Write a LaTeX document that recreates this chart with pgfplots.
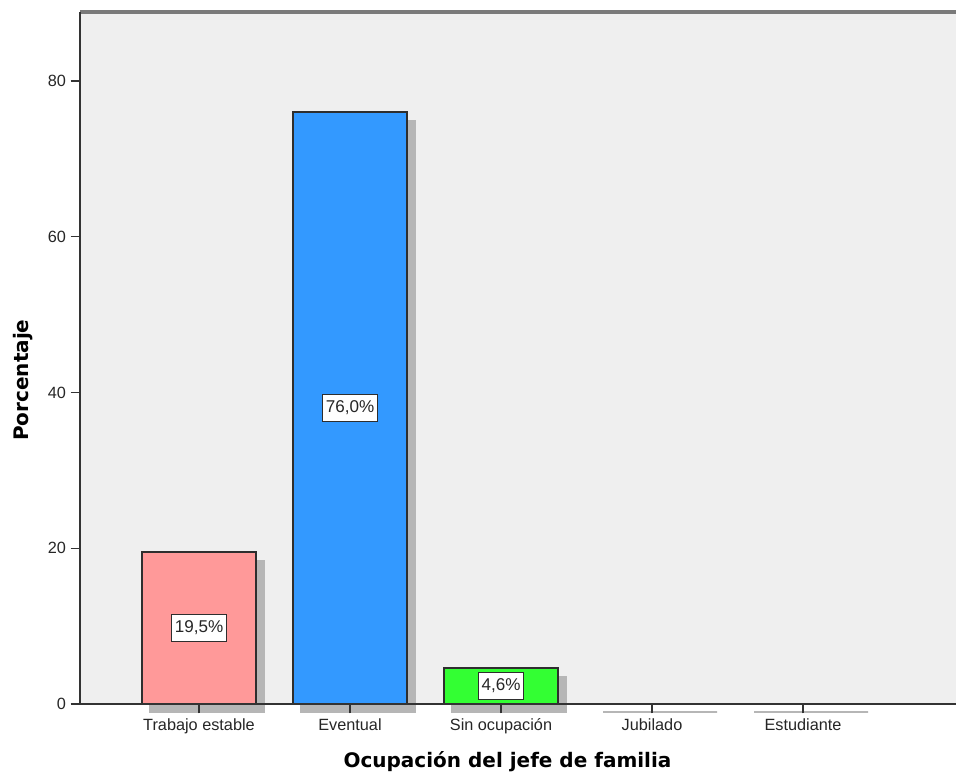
\documentclass[border=0pt]{standalone}
\usepackage{fontspec}
\setmainfont{Liberation Sans}
\newfontfamily\labfont{DejaVu Sans}
\usepackage{pgfplots}
\pgfplotsset{compat=1.18}
\definecolor{bg}{HTML}{EFEFEF}
\definecolor{topline}{HTML}{7A7A7A}
\definecolor{axisdark}{HTML}{333333}
\definecolor{edge}{HTML}{2E2E2E}
\definecolor{shadow}{HTML}{B6B6B6}
\definecolor{pinkbar}{HTML}{FF9999}
\definecolor{bluebar}{HTML}{3399FF}
\definecolor{greenbar}{HTML}{33FF33}
\begin{document}
\begin{tikzpicture}
\useasboundingbox (-60pt,-53.25pt) rectangle (657pt,528pt);
\begin{axis}[
  at={(0,0)}, anchor=south west, scale only axis,
  width=657pt, height=519pt,
  xmin=-0.788, xmax=5.013, ymin=0, ymax=88.86,
  clip=false, axis on top,
  axis background/.style={fill=bg},
  axis line style={draw=none},
  xtick={0,1,2,3,4},
  xticklabels={Trabajo estable,Eventual,Sin ocupación,Jubilado,Estudiante},
  ytick={0,20,40,60,80},
  xtick pos=bottom, ytick pos=left, tick align=outside,
  major tick length=7pt,
  tick style={draw=axisdark, line width=1pt},
  ticklabel style={font=\fontsize{12.2}{14}\selectfont, text=black!85},
  xticklabel style={text height=9pt, text depth=2.5pt},
  /pgf/number format/assume math mode=true,
  xlabel={Ocupación del jefe de familia},
  ylabel={Porcentaje},
  xlabel style={font=\labfont\bfseries\fontsize{15}{18}\selectfont, at={(axis description cs:0.488,-0.0838)}, anchor=center},
  ylabel style={font=\labfont\bfseries\fontsize{15}{18}\selectfont, at={(axis description cs:-0.0651,0.468)}, anchor=center},
]
% shadows
\addplot[ybar, bar width=0.755, bar shift=0pt, fill=shadow, draw=shadow, line width=0.9pt, xshift=6pt, yshift=-6pt]
  coordinates {(0,19.5) (1,76.0) (2,4.6) (3,0) (4,0)};
% bars
\addplot[ybar, bar width=0.755, bar shift=0pt, fill=pinkbar, draw=edge, line width=1.2pt]
  coordinates {(0,19.5)};
\addplot[ybar, bar width=0.755, bar shift=0pt, fill=bluebar, draw=edge, line width=1.2pt]
  coordinates {(1,76.0)};
\addplot[ybar, bar width=0.755, bar shift=0pt, fill=greenbar, draw=edge, line width=1.2pt]
  coordinates {(2,4.6)};
% labels
\addplot[draw=none, mark=none, point meta=explicit symbolic, nodes near coords,
  every node near coord/.style={anchor=center, fill=white, draw=edge, line width=0.9pt,
    font=\fontsize{12.8}{14}\selectfont, text=black!85, inner xsep=2.5pt, inner ysep=5pt}]
  coordinates {(0,9.75) [19,5\%] (1,38.0) [76,0\%] (2,2.3) [4,6\%]};
% axis lines
\draw[topline, line width=2.4pt] (rel axis cs:0,1) -- (rel axis cs:1,1);
\draw[axisdark, line width=1.4pt] (rel axis cs:0,1) -- (rel axis cs:0,0) -- (rel axis cs:1,0);
\end{axis}
\end{tikzpicture}
\end{document}
